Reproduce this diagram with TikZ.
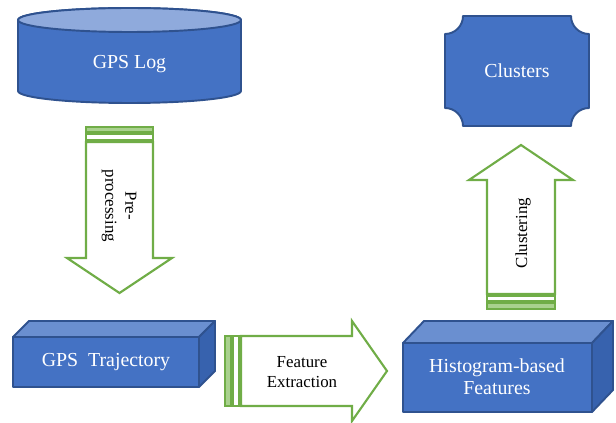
\documentclass[tikz,border=0pt]{standalone}
\usepackage{fontspec}
\setmainfont{Liberation Serif}
\usepackage{tikz}
\usetikzlibrary{positioning}
\definecolor{boxblue}{HTML}{4472C4}
\definecolor{boxline}{HTML}{2F528F}
\definecolor{cyltop}{HTML}{8FAADC}
\definecolor{cubetop}{HTML}{6A8FD0}
\definecolor{cubeside}{HTML}{3762AE}
\definecolor{arrowgreen}{HTML}{70AD47}
\definecolor{stripegreen}{HTML}{A9D18E}

\begin{document}
\begin{tikzpicture}[
  x=0.02cm, y=0.02cm,
  box/.style={draw=boxline, line width=1.1pt, fill=boxblue, line join=round},
  blockarrow/.style={draw=arrowgreen, line width=1.2pt, fill=white, line join=miter},
  stripe/.style={draw=arrowgreen, line width=1.2pt, fill=stripegreen},
  txt/.style={font=\fontsize{11.3}{12.6}\selectfont, text=white, align=center},
  lbl/.style={font=\fontsize{9.6}{11.4}\selectfont, align=center}
]
  \useasboundingbox (0,0) rectangle (616,423);

  \draw[box] (18,403) -- (18,332) arc[start angle=180, end angle=360, x radius=111.5, y radius=12]
    -- (241,403) arc[start angle=0, end angle=180, x radius=111.5, y radius=12] -- cycle;
  \draw[box, fill=cyltop] (129.5,403) ellipse [x radius=111.5, y radius=12];
  \node[txt] (log) at (129.5,359) {GPS Log};

  \draw[box] (463,407) -- (571,407) arc[start angle=180, end angle=270, radius=18]
    -- (589,315) arc[start angle=90, end angle=180, radius=18]
    -- (463,297) arc[start angle=0, end angle=90, radius=18]
    -- (445,389) arc[start angle=270, end angle=360, radius=18] -- cycle;
  \node[txt] (clus) at (517,352) {Clusters};

  \draw[box] (13,36) rectangle (199,86);
  \draw[box, fill=cubetop] (13,86) -- (29,102) -- (215,102) -- (199,86) -- cycle;
  \draw[box, fill=cubeside] (199,86) -- (215,102) -- (215,52) -- (199,36) -- cycle;
  \node[txt] (traj) at (106,61) {GPS\ \ Trajectory};

  \draw[box] (403,11) rectangle (592,80);
  \draw[box, fill=cubetop] (403,80) -- (424,102) -- (613,102) -- (592,80) -- cycle;
  \draw[box, fill=cubeside] (592,80) -- (613,102) -- (613,33) -- (592,11) -- cycle;
  \node[txt] (hist) at (497,46) {Histogram-based\\Features};

  \draw[stripe] (86,291) rectangle (153,296);
  \draw[blockarrow] (86,283) rectangle (153,289);
  \draw[blockarrow] (86,281) -- (153,281) -- (153,165) -- (172,165) -- (119.5,130) -- (67,165) -- (86,165) -- cycle;
  \node[lbl, rotate=-90] (pre) at (119,217) {Pre-\\processing};

  \draw[stripe] (225,17) rectangle (231,87);
  \draw[blockarrow] (233,17) rectangle (239,87);
  \draw[blockarrow] (241,17) -- (241,87) -- (352,87) -- (352,102) -- (387,52) -- (352,2) -- (352,17) -- cycle;
  \node[lbl] (feat) at (302,51) {Feature\\Extraction};

  \draw[stripe] (487,114) rectangle (555,120);
  \draw[blockarrow] (487,122) rectangle (555,127);
  \draw[blockarrow] (487,129) -- (555,129) -- (555,243) -- (573,243) -- (521,278) -- (469,243) -- (487,243) -- cycle;
  \node[lbl, rotate=90] (clu) at (523,190) {Clustering};
\end{tikzpicture}
\end{document}
